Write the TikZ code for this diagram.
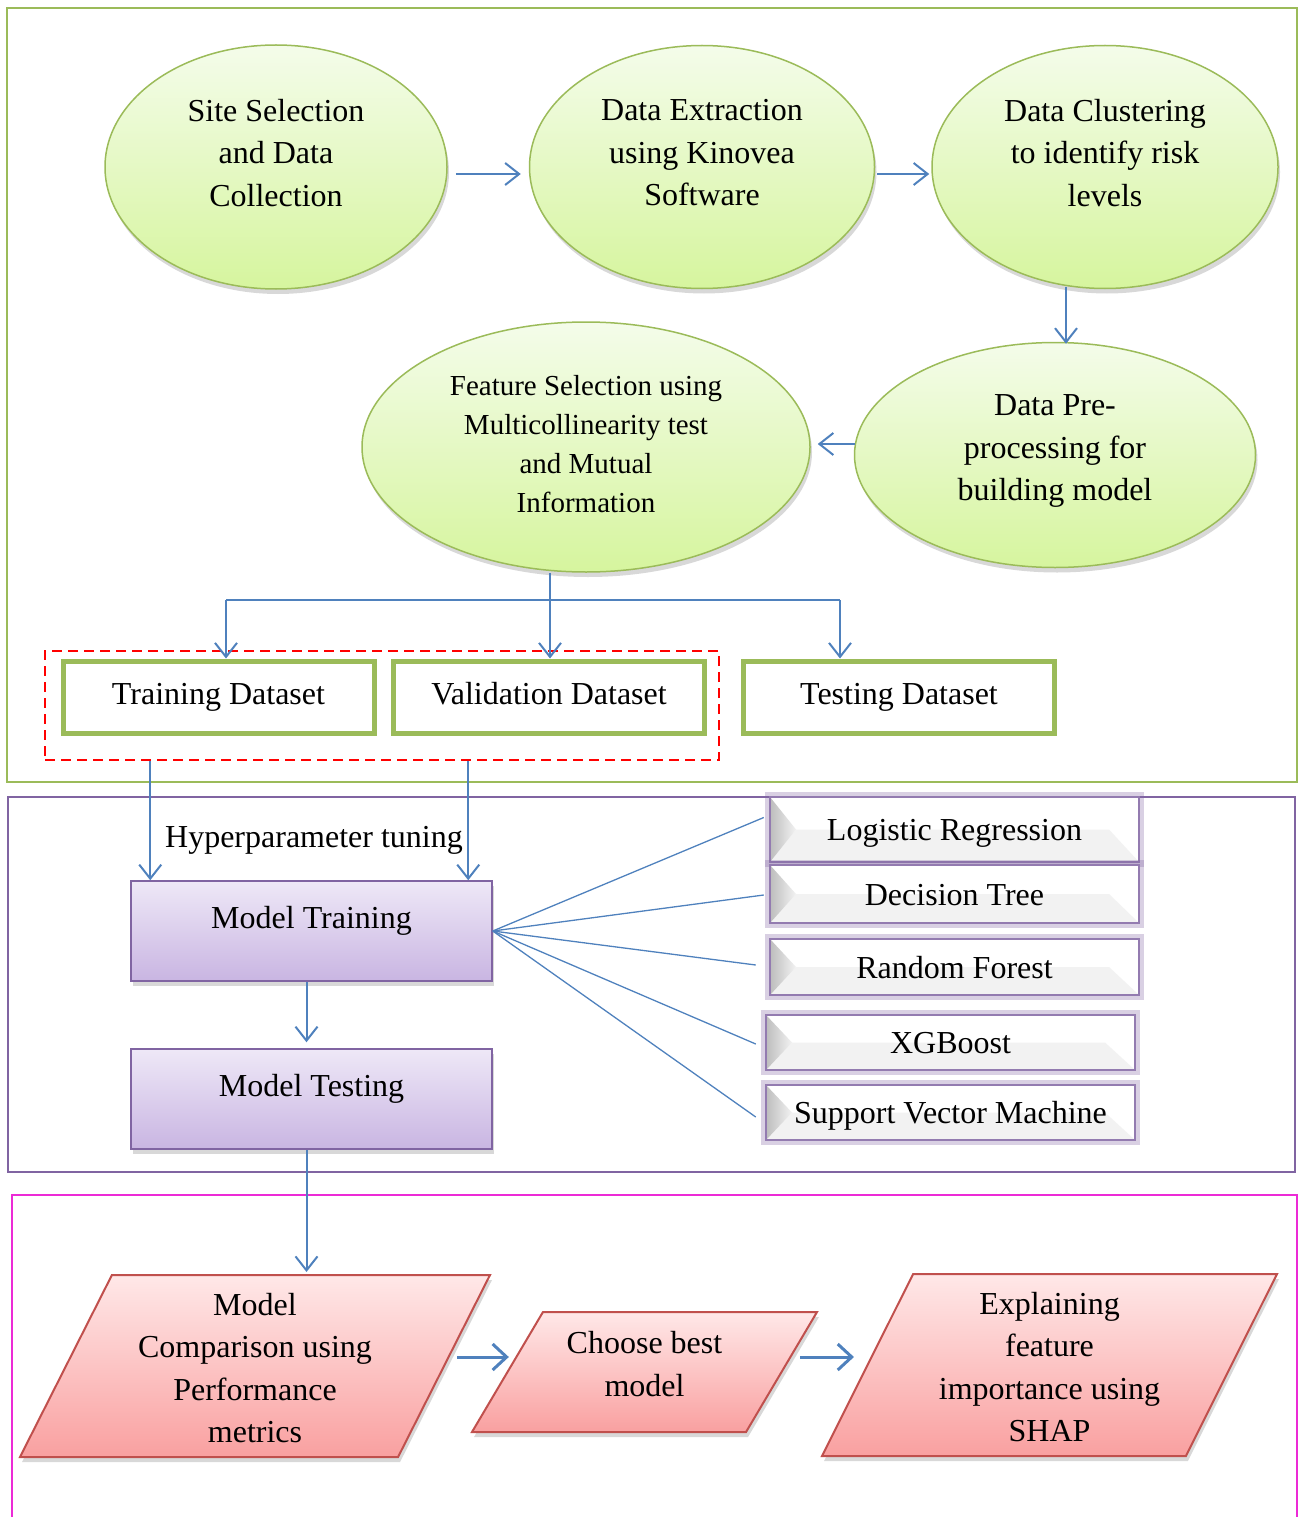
\documentclass[tikz,border=0pt]{standalone}
\usepackage{fontspec}
\setmainfont{Liberation Serif}
\usetikzlibrary{shapes.geometric,arrows.meta,shadows,calc}
\definecolor{flowblue}{HTML}{4F81BD}
\definecolor{olivegreen}{HTML}{9BBB59}
\definecolor{lilac}{HTML}{8064A2}
\definecolor{brick}{HTML}{C0504D}
\definecolor{leaftop}{HTML}{F4FCEA}
\definecolor{leafbot}{HTML}{D6F59E}
\definecolor{lilactop}{HTML}{EEE8F7}
\definecolor{lilacbot}{HTML}{C9B5E2}
\definecolor{rosetop}{HTML}{FFE8E8}
\definecolor{rosebot}{HTML}{F9A0A0}
\definecolor{framepink}{HTML}{EC2AD6}
\begin{document}
\begin{tikzpicture}[x=1pt,y=-1pt,
  txt/.style={font=\fontsize{32}{42.5}\selectfont, align=center, inner sep=0pt},
  smalltxt/.style={font=\fontsize{29}{39}\selectfont, align=center, inner sep=0pt},
  oneline/.style={txt, text height=22pt, text depth=7pt},
  softshadow/.style={drop shadow={shadow xshift=2pt, shadow yshift=-5pt, opacity=0.28, fill=black!55}},
  leaf/.style={ellipse, draw=olivegreen, line width=1.5pt, top color=leaftop,
    bottom color=leafbot, inner sep=0pt, softshadow},
  arr/.style={draw=flowblue, line width=2pt, -{Straight Barb[length=14pt,width=22pt]}},
  bigarr/.style={draw=flowblue, line width=3pt, -{Straight Barb[length=14pt,width=26pt]}},
  ray/.style={draw=flowblue, line width=1.3pt},
  dataset/.style={rectangle, draw=olivegreen, line width=5pt, fill=white,
    minimum width=311pt, minimum height=72pt, oneline},
  stage/.style={rectangle, draw=lilac, line width=1.5pt, top color=lilactop,
    bottom color=lilacbot, minimum width=361pt, minimum height=100pt, inner sep=0pt, softshadow},
  algo/.style={rectangle, fill=white, draw=lilac!85, line width=2.5pt,
    minimum width=369pt, txt, text height=26pt, text depth=4pt,
    preaction={draw=lilac, line width=10pt, opacity=0.3},
    path picture={
      \fill[black!5] ([xshift=26pt]path picture bounding box.west) --
        ([xshift=-30pt]path picture bounding box.east) --
        (path picture bounding box.south east) --
        (path picture bounding box.south west) -- cycle;
      \shade[left color=black!26, right color=black!5]
        (path picture bounding box.north west) --
        ([xshift=26pt]path picture bounding box.west) --
        (path picture bounding box.south west) -- cycle;}},
  slant/.style={trapezium, trapezium stretches body, draw=brick, line width=2pt,
    top color=rosetop, bottom color=rosebot, inner sep=0pt, softshadow}
]
\useasboundingbox (0,0) rectangle (1307,1517);

% section frames
\draw[olivegreen, line width=2pt] (7,8) rectangle (1297,782);
\draw[lilac, line width=1.5pt] (8,797) rectangle (1295,1172);
\draw[framepink, line width=2pt] (12,1517) -- (12,1195) -- (1297,1195) -- (1297,1517);

% data preparation stages
\node[leaf, minimum width=342pt, minimum height=244pt,
  label={[txt,yshift=14pt]center:{Site Selection\\and Data\\Collection}}] (e1) at (276,167) {};
\node[leaf, minimum width=345pt, minimum height=243pt,
  label={[txt,yshift=14pt]center:{Data Extraction\\using Kinovea\\Software}}] (e2) at (702,167) {};
\node[leaf, minimum width=346pt, minimum height=243pt,
  label={[txt,yshift=14pt]center:{Data Clustering\\to identify risk\\levels}}] (e3) at (1105,167) {};
\node[leaf, minimum width=401pt, minimum height=225pt,
  label={[txt,yshift=4pt]center:{Data Pre-\\processing for\\building model}}] (e4) at (1055,455) {};
\node[leaf, minimum width=448pt, minimum height=250pt,
  label={[smalltxt,yshift=3pt]center:{Feature Selection using\\Multicollinearity test\\and Mutual\\Information}}] (e5) at (586,447) {};

\draw[arr] ([shift={(8,7)}]e1.east) -- ([shift={(-8,7)}]e2.west);
\draw[arr] ([shift={(2,7)}]e2.east) -- ([shift={(-2,7)}]e3.west);
\draw[arr] ($(e3.south)+(-39,-2)$) -- ($(e4.north)+(11,2)$);
\draw[arr] ([shift={(1,-11)}]e4.west) -- ([shift={(7,-3)}]e5.east);

% data split
\node[dataset] (train) at (218.5,697) {Training Dataset};
\node[dataset] (valid) at (549,697) {Validation Dataset};
\node[dataset] (test) at (899,697) {Testing Dataset};
\node[rectangle, draw=red, line width=1.5pt, dash pattern=on 10pt off 6pt,
  minimum width=674pt, minimum height=109pt, inner sep=0pt] (grp) at (382,705.5) {};

\coordinate (split) at (550,600);
\coordinate (bl) at (226,600);
\coordinate (br) at (840,600);
\draw[ray, line width=1.6pt] (e5.south -| split) -- (split);
\draw[ray, line width=1.6pt] (bl) -- (br);
\draw[arr] (bl) -- (bl |- train.north);
\draw[arr] (split) -- (split |- valid.north);
\draw[arr] (br) -- (br |- test.north);

% modelling
\node[stage, label={[oneline,yshift=10pt]center:Model Training}] (mt) at (311.5,931) {};
\node[stage, label={[oneline,yshift=10pt]center:Model Testing}] (mtest) at (311.5,1099) {};

\coordinate (tA) at ($(mt.north west)+(20,0)$);
\coordinate (tB) at ($(mt.north west)+(338,0)$);
\draw[arr] (grp.south -| tA) -- (tA);
\draw[arr] (grp.south -| tB) -- (tB);
\node[oneline] (hyper) at (314,840) {Hyperparameter tuning};

\coordinate (mx) at ($(mt.south)+(-5,0)$);
\draw[arr] (mx) -- ($(mx |- mtest.north)+(0,-6)$);

\node[algo, minimum height=65pt] (lr) at (954.5,829.5) {Logistic Regression};
\node[algo, minimum height=58pt] (dt) at (954.5,894) {Decision Tree};
\node[algo, minimum height=56pt] (rf) at (954.5,967) {Random Forest};
\node[algo, minimum height=55pt] (xgb) at (950.5,1042.5) {XGBoost};
\node[algo, minimum height=55pt] (svm) at (950.5,1112.5) {Support Vector Machine};

\draw[ray] (mt.east) -- ([shift={(-5,-12)}]lr.west);
\draw[ray] (mt.east) -- ([shift={(-5,1)}]dt.west);
\draw[ray] (mt.east) -- ([shift={(-13,-2)}]rf.west);
\draw[ray] (mt.east) -- ([shift={(-9,1.5)}]xgb.west);
\draw[ray] (mt.east) -- ([shift={(-9,4.5)}]svm.west);

% evaluation
\node[slant, trapezium left angle=63.2, trapezium right angle=116.8,
  minimum width=470pt, text height=91pt, text depth=91pt,
  label={[txt,yshift=-2pt]center:{Model\\Comparison using\\Performance\\metrics}}]
  (p1) at (255,1366) {};
\node[slant, trapezium left angle=59.4, trapezium right angle=120.6,
  minimum width=345pt, text height=60pt, text depth=60pt,
  label={[txt,yshift=8pt]center:{Choose best\\model}}]
  (p2) at (644.5,1372) {};
\node[slant, trapezium left angle=63.4, trapezium right angle=116.6,
  minimum width=455pt, text height=91pt, text depth=91pt,
  label={[txt,yshift=-2pt]center:{Explaining\\feature\\importance using\\SHAP}}]
  (p3) at (1049.5,1365) {};

\coordinate (mz) at ($(mtest.south)+(-5,0)$);
\draw[arr] (mz) -- ($(mz |- p1.north)+(0,-2)$);
\draw[bigarr] ([shift={(12,-9)}]p1.right side) -- ([shift={(2.5,-15)}]p2.left side);
\draw[bigarr] ([shift={(17.5,-15)}]p2.right side) -- ([shift={(-12.5,-8)}]p3.left side);
\end{tikzpicture}
\end{document}
